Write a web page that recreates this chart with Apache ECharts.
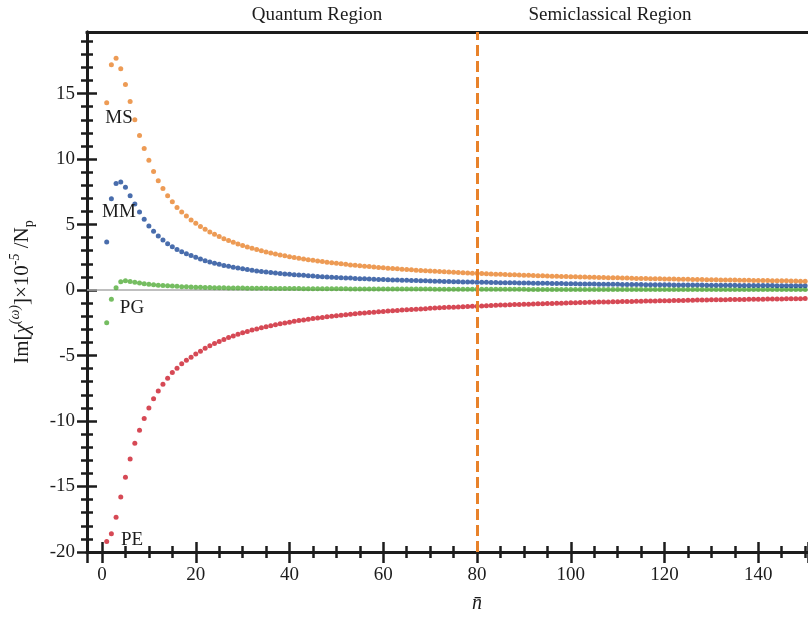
<!DOCTYPE html>
<html>
<head>
<meta charset="utf-8">
<script src="https://cdn.jsdelivr.net/npm/echarts@6/dist/echarts.min.js"></script>
<style>
  html, body { margin: 0; padding: 0; background: #fff; }
  #chart { width: 808px; height: 617px; }
</style>
</head>
<body>
<div id="chart"></div>
<script>
// mean photon number n̄ = 1 .. 150
const nBar = [1,2,3,4,5,6,7,8,9,10,11,12,13,14,15,16,17,18,19,20,
  21,22,23,24,25,26,27,28,29,30,31,32,33,34,35,36,37,38,39,40,
  41,42,43,44,45,46,47,48,49,50,51,52,53,54,55,56,57,58,59,60,
  61,62,63,64,65,66,67,68,69,70,71,72,73,74,75,76,77,78,79,80,
  81,82,83,84,85,86,87,88,89,90,91,92,93,94,95,96,97,98,99,100,
  101,102,103,104,105,106,107,108,109,110,111,112,113,114,115,116,117,118,119,120,
  121,122,123,124,125,126,127,128,129,130,131,132,133,134,135,136,137,138,139,140,
  141,142,143,144,145,146,147,148,149,150];

const msVals = [14.3,17.2,17.7,16.9,15.7,14.4,13.0,11.8,10.8,9.9,9.05,8.35,7.76,7.2,6.74,6.31,5.95,5.65,5.34,5.09,
  4.86,4.64,4.43,4.25,4.08,3.92,3.78,3.64,3.52,3.40,3.29,3.19,3.09,3.00,2.91,2.83,2.76,2.68,2.62,2.55,
  2.49,2.43,2.37,2.32,2.27,2.22,2.17,2.13,2.08,2.04,2.00,1.96,1.92,1.89,1.85,1.82,1.79,1.76,1.73,1.70,
  1.67,1.65,1.62,1.59,1.57,1.55,1.52,1.50,1.48,1.46,1.44,1.42,1.40,1.38,1.36,1.34,1.32,1.31,1.29,1.28,
  1.26,1.24,1.23,1.21,1.20,1.19,1.17,1.16,1.15,1.13,1.12,1.11,1.10,1.09,1.07,1.06,1.05,1.04,1.03,1.02,
  1.01,1.00,0.99,0.98,0.97,0.96,0.95,0.94,0.94,0.93,0.92,0.91,0.90,0.89,0.89,0.88,0.87,0.86,0.86,0.85,
  0.84,0.84,0.83,0.82,0.82,0.81,0.80,0.80,0.79,0.78,0.78,0.77,0.77,0.76,0.76,0.75,0.74,0.74,0.73,0.73,
  0.72,0.72,0.71,0.71,0.70,0.70,0.69,0.69,0.68,0.68];

const mmVals = [3.66,6.97,8.14,8.24,7.84,7.2,6.56,5.95,5.4,4.89,4.48,4.12,3.82,3.54,3.31,3.10,2.93,2.77,2.64,2.50,
  2.36,2.24,2.14,2.05,1.96,1.88,1.81,1.74,1.68,1.62,1.56,1.51,1.46,1.42,1.38,1.34,1.30,1.27,1.23,1.20,
  1.17,1.14,1.12,1.09,1.07,1.04,1.02,1.00,0.98,0.96,0.94,0.92,0.91,0.89,0.87,0.86,0.84,0.83,0.81,0.80,
  0.79,0.77,0.76,0.75,0.74,0.73,0.72,0.71,0.70,0.69,0.68,0.67,0.66,0.65,0.64,0.63,0.62,0.62,0.61,0.60,
  0.59,0.59,0.58,0.57,0.56,0.56,0.55,0.55,0.54,0.53,0.53,0.52,0.52,0.51,0.51,0.50,0.49,0.49,0.48,0.48,
  0.48,0.47,0.47,0.46,0.46,0.45,0.45,0.44,0.44,0.44,0.43,0.43,0.42,0.42,0.42,0.41,0.41,0.41,0.40,0.40,
  0.40,0.39,0.39,0.39,0.38,0.38,0.38,0.38,0.37,0.37,0.37,0.36,0.36,0.36,0.36,0.35,0.35,0.35,0.35,0.34,
  0.34,0.34,0.34,0.33,0.33,0.33,0.33,0.32,0.32,0.32];

const pgVals = [-2.49,-0.71,0.18,0.64,0.71,0.66,0.59,0.53,0.48,0.44,0.40,0.37,0.34,0.32,0.30,0.28,0.26,0.25,0.24,0.22,
  0.21,0.20,0.19,0.18,0.18,0.17,0.16,0.16,0.15,0.15,0.14,0.14,0.13,0.13,0.13,0.12,0.12,0.12,0.11,0.11,
  0.11,0.11,0.10,0.10,0.10,0.10,0.10,0.09,0.09,0.09,0.09,0.09,0.08,0.08,0.08,0.08,0.08,0.08,0.08,0.07,
  0.07,0.07,0.07,0.07,0.07,0.07,0.07,0.07,0.07,0.07,0.06,0.06,0.06,0.06,0.06,0.06,0.06,0.06,0.06,0.06,
  0.06,0.06,0.06,0.06,0.06,0.06,0.06,0.06,0.06,0.06,0.05,0.05,0.05,0.05,0.05,0.05,0.05,0.05,0.05,0.05,
  0.05,0.05,0.05,0.05,0.05,0.05,0.05,0.05,0.05,0.05,0.05,0.05,0.05,0.05,0.05,0.05,0.05,0.05,0.05,0.05,
  0.04,0.04,0.04,0.04,0.04,0.04,0.04,0.04,0.04,0.04,0.04,0.04,0.04,0.04,0.04,0.04,0.04,0.04,0.04,0.04,
  0.04,0.04,0.04,0.04,0.04,0.04,0.04,0.04,0.04,0.04];

const peVals = [-19.2,-18.6,-17.35,-15.8,-14.3,-12.9,-11.7,-10.7,-9.8,-9.0,-8.3,-7.7,-7.2,-6.74,-6.3,-5.98,-5.63,-5.37,-5.14,-4.89,
  -4.67,-4.45,-4.26,-4.08,-3.92,-3.77,-3.63,-3.50,-3.38,-3.27,-3.16,-3.06,-2.97,-2.88,-2.80,-2.72,-2.65,-2.58,-2.51,-2.45,
  -2.39,-2.33,-2.28,-2.23,-2.18,-2.13,-2.09,-2.04,-2.00,-1.96,-1.92,-1.88,-1.85,-1.81,-1.78,-1.75,-1.72,-1.69,-1.66,-1.63,
  -1.61,-1.58,-1.56,-1.53,-1.51,-1.48,-1.46,-1.44,-1.42,-1.40,-1.38,-1.36,-1.34,-1.32,-1.31,-1.29,-1.27,-1.26,-1.24,-1.23,
  -1.21,-1.20,-1.18,-1.17,-1.15,-1.14,-1.13,-1.11,-1.10,-1.09,-1.08,-1.07,-1.05,-1.04,-1.03,-1.02,-1.01,-1.00,-0.99,-0.98,
  -0.97,-0.96,-0.95,-0.94,-0.93,-0.92,-0.92,-0.91,-0.90,-0.89,-0.88,-0.88,-0.87,-0.86,-0.85,-0.84,-0.84,-0.83,-0.82,-0.82,
  -0.81,-0.80,-0.80,-0.79,-0.78,-0.78,-0.77,-0.77,-0.76,-0.75,-0.75,-0.74,-0.74,-0.73,-0.73,-0.72,-0.72,-0.71,-0.71,-0.70,
  -0.70,-0.69,-0.69,-0.68,-0.68,-0.67,-0.67,-0.66,-0.66,-0.65];

const regionBoundary = 80;
const xTickLabels = [0, 20, 40, 60, 80, 100, 120, 140];
const yTickLabels = [-20, -15, -10, -5, 0, 5, 10, 15];

const colors = { MS: '#E8822A', MM: '#1C4897', PG: '#52AC3A', PE: '#CC1C2A' };
const ink = '#1c1c1c';
const serif = 'Liberation Serif';

const pairs = vals => nBar.map((n, i) => [n, vals[i]]);

function xAxisPart(inside, showLabel) {
  return {
    type: 'value', position: 'bottom', min: -3.2, max: 150.6,
    minInterval: 20, maxInterval: 20,
    axisLine: { show: true, onZero: false, lineStyle: { color: ink, width: 3 } },
    axisTick: { show: true, inside: inside, length: inside ? 10 : 11, lineStyle: { color: ink, width: 2.5 } },
    minorTick: { show: true, splitNumber: 4, length: 6, lineStyle: { color: ink, width: 2.5 } },
    splitLine: { show: false },
    axisLabel: {
      show: showLabel, margin: 14, color: ink, fontFamily: serif, fontSize: 19,
      formatter: v => (xTickLabels.indexOf(v) >= 0 ? String(v) : '')
    }
  };
}

function yAxisPart(inside, showLabel) {
  return {
    type: 'value', position: 'left', min: -20, max: 19.7, interval: 5,
    axisLine: { show: true, onZero: false, lineStyle: { color: ink, width: 3 } },
    axisTick: { show: true, inside: inside, length: 10, lineStyle: { color: ink, width: 2.5 } },
    minorTick: { show: true, splitNumber: 5, length: 6, lineStyle: { color: ink, width: 2.5 } },
    splitLine: { show: false },
    axisLabel: {
      show: showLabel, margin: 12, color: ink, fontFamily: serif, fontSize: 19,
      formatter: v => (yTickLabels.indexOf(v) >= 0 ? String(v) : '')
    }
  };
}

const chart = echarts.init(document.getElementById('chart'));

const dots = (name, vals) => ({
  name: name, type: 'scatter', z: 3,
  symbol: 'circle', symbolSize: 5,
  itemStyle: { color: colors[name] },
  data: pairs(vals)
});

const yTitle = Object.assign(yAxisPart(false, true), {
  name: 'Im[{it|χ}{sup|(ω)}]×10{sup|-5} /N{sub|p}',
  nameLocation: 'middle', nameGap: 51, nameRotate: 90,
  nameTextStyle: {
    color: ink, fontFamily: serif, fontSize: 21, lineHeight: 28,
    rich: {
      it: { fontFamily: serif, fontSize: 21, fontStyle: 'italic', color: ink, lineHeight: 28 },
      sup: { fontFamily: serif, fontSize: 14, fontStyle: 'italic', color: ink, verticalAlign: 'top', lineHeight: 14 },
      sub: { fontFamily: serif, fontSize: 14, color: ink, verticalAlign: 'bottom', lineHeight: 11 }
    }
  }
});

const option = {
  animation: false,
  backgroundColor: '#fff',
  grid: { left: 87, right: 0, top: 32, bottom: 65, containLabel: false, outerBoundsMode: 'none' },
  xAxis: [
    xAxisPart(false, true),
    xAxisPart(true, false),
    {
      type: 'value', position: 'top', min: -3.2, max: 150.6,
      axisLine: { show: true, onZero: false, lineStyle: { color: ink, width: 3 } },
      axisTick: { show: false }, axisLabel: { show: false }, splitLine: { show: false }
    }
  ],
  yAxis: [yTitle, yAxisPart(true, false)],
  series: [
    Object.assign(dots('PG', pgVals), {
      markLine: {
        silent: true, symbol: 'none', z: 1, label: { show: false },
        lineStyle: { color: '#aaaaaa', width: 1.5, type: 'solid' },
        data: [{ yAxis: 0 }]
      }
    }),
    dots('MM', mmVals),
    dots('MS', msVals),
    Object.assign(dots('PE', peVals), {
      markLine: {
        silent: true, symbol: 'none', label: { show: false },
        lineStyle: { color: colors.MS, width: 3, type: [11, 5] },
        data: [{ xAxis: regionBoundary }]
      }
    })
  ],
  graphic: [
    // hide the stub of the boundary tick at the top end of the y axis
    { type: 'rect', z: 100, shape: { x: 72, y: 28, width: 13.5, height: 8 }, style: { fill: '#fff' } },
    { type: 'text', x: 317, y: 15, style: { text: 'Quantum Region', font: '19px "Liberation Serif"', fill: ink, align: 'center', verticalAlign: 'middle' } },
    { type: 'text', x: 610, y: 15, style: { text: 'Semiclassical Region', font: '19px "Liberation Serif"', fill: ink, align: 'center', verticalAlign: 'middle' } },
    { type: 'text', x: 119, y: 118, z: 10, style: { text: 'MS', font: '19px "Liberation Serif"', fill: ink, align: 'center', verticalAlign: 'middle' } },
    { type: 'text', x: 119, y: 212, z: 10, style: { text: 'MM', font: '19px "Liberation Serif"', fill: ink, align: 'center', verticalAlign: 'middle' } },
    { type: 'text', x: 132, y: 308, z: 10, style: { text: 'PG', font: '19px "Liberation Serif"', fill: ink, align: 'center', verticalAlign: 'middle' } },
    { type: 'text', x: 132, y: 540, z: 10, style: { text: 'PE', font: '19px "Liberation Serif"', fill: ink, align: 'center', verticalAlign: 'middle' } },
    { type: 'text', x: 477, y: 604, style: { text: 'n\u0304', font: 'italic 20px "Liberation Serif"', fill: ink, align: 'center', verticalAlign: 'middle' } }
  ]
};

chart.setOption(option);
</script>
</body>
</html>
